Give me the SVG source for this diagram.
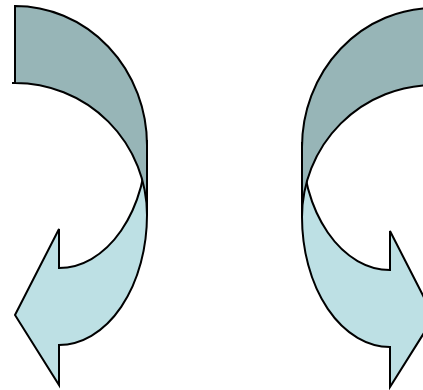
<svg xmlns="http://www.w3.org/2000/svg" width="423" height="390" viewBox="0 0 423 390">
  <style>
    .dark { fill: #97B5B7; stroke: #000; stroke-width: 2; stroke-linejoin: miter; }
    .light { fill: #BDE0E4; stroke: #000; stroke-width: 2; stroke-linejoin: miter; }
  </style>
  <defs>
    <g id="curved-arrow">
      <path class="light" d="M147,140 L147,215 A88,130 0 0 1 59,345 L59,385 L15,315 L59,229 L59,268 A88,128 0 0 0 147,140 Z"/>
      <path class="dark" d="M15,6 A132,139 0 0 1 147,145 L147,215 A132,132 0 0 0 15,83 Z"/>
      <path d="M12,83 L15,83" stroke="#000" stroke-width="2" fill="none"/>
    </g>
  </defs>
  <g id="arrow-left">
    <use href="#curved-arrow"/>
  </g>
  <g id="arrow-right">
    <use href="#curved-arrow" transform="translate(449,2) scale(-1,1)"/>
  </g>
  <g id="connectors"/>
</svg>
